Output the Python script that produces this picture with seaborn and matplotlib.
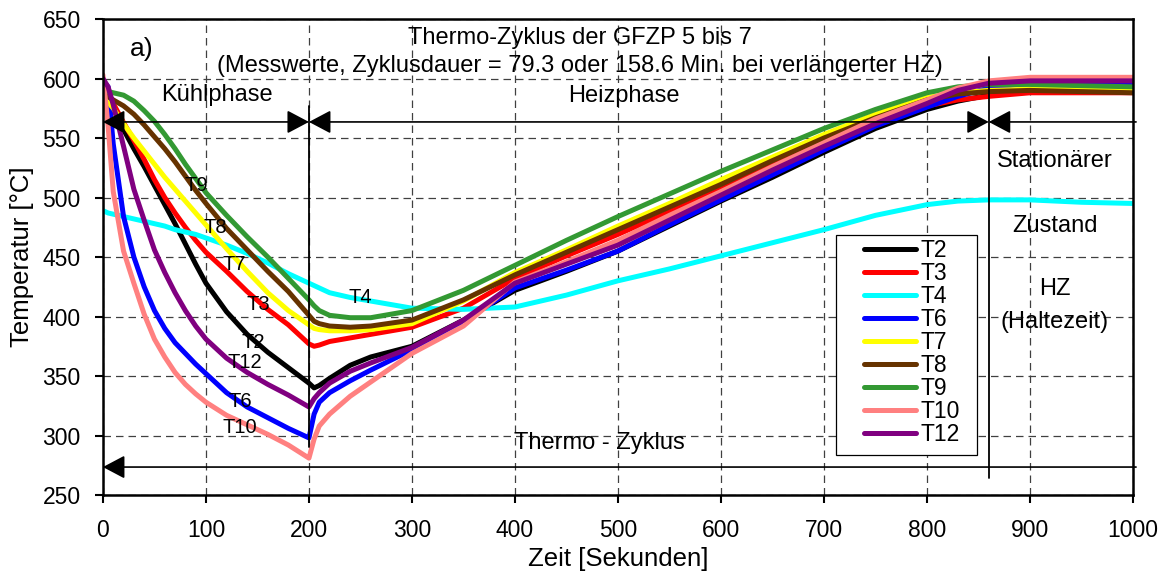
import numpy as np
import pandas as pd
import matplotlib
matplotlib.use("Agg")
import matplotlib.pyplot as plt
import seaborn as sns
from matplotlib.lines import Line2D
from matplotlib.patches import Rectangle

# ---------------- data ----------------
zeit = [0, 5, 10, 20, 30, 40, 50, 60, 70, 80, 90, 100, 120, 140, 160, 180, 200,
        205, 210, 220, 240, 260, 300, 350, 400, 450, 500, 550, 600, 650, 700,
        750, 800, 830, 860, 900, 950, 1000]

T2 = [598, 587, 575, 557, 541, 526, 510, 494, 478, 461, 444, 428, 404, 385, 370, 357, 344,
      340, 342, 348, 359, 366, 375, 397, 422, 438, 455, 476, 497, 517, 538,
      558, 574, 581, 586, 589, 590, 590]
T3 = [595, 588, 579, 563, 548, 532, 515, 500, 487, 475, 464, 454, 438, 421, 406, 393, 377,
      375, 376, 379, 382, 385, 391, 407, 432, 451, 469, 488, 507, 527, 546,
      563, 577, 582, 585, 588, 588, 588]
T4 = [489, 487, 486, 484, 482, 480, 478, 476, 473, 471, 469, 466, 460, 453, 445, 436, 428,
      426, 424, 420, 416, 413, 407, 406, 408, 418, 430, 440, 451, 462, 473,
      485, 494, 497, 498, 498, 496, 495]
T6 = [598, 593, 545, 484, 450, 425, 405, 390, 378, 369, 360, 352, 336, 324, 315, 306, 298,
      318, 328, 336, 346, 355, 372, 396, 424, 439, 455, 477, 498, 519, 540,
      560, 576, 585, 592, 596, 596, 595]
T7 = [583, 580, 575, 562, 550, 539, 528, 517, 507, 497, 487, 477, 457, 438, 420, 405, 393,
      390, 389, 388, 388, 389, 394, 413, 437, 456, 476, 495, 515, 534, 553,
      570, 584, 588, 590, 591, 591, 590]
T8 = [587, 585, 582, 577, 570, 561, 551, 541, 530, 518, 506, 495, 474, 456, 438, 421, 401,
      396, 394, 392, 391, 392, 397, 414, 435, 454, 473, 492, 511, 531, 550,
      567, 582, 587, 589, 590, 589, 588]
T9 = [590, 589, 588, 586, 581, 573, 564, 553, 541, 528, 516, 504, 485, 467, 450, 432, 414,
      409, 405, 401, 399, 399, 405, 422, 443, 464, 484, 503, 522, 540, 558,
      574, 588, 593, 595, 595, 594, 593]
T10 = [603, 560, 505, 455, 428, 402, 381, 366, 353, 343, 335, 328, 317, 309, 301, 292, 281,
       297, 308, 318, 333, 345, 369, 392, 429, 446, 464, 485, 505, 526, 546,
       566, 582, 592, 598, 601, 601, 601]
T12 = [600, 593, 578, 543, 507, 481, 456, 437, 420, 405, 392, 381, 365, 353, 343, 334, 324,
       331, 336, 344, 354, 361, 374, 397, 428, 444, 460, 481, 502, 523, 543,
       562, 579, 590, 596, 598, 598, 598]

serien = ["T2", "T3", "T4", "T6", "T7", "T8", "T9", "T10", "T12"]
werte = [T2, T3, T4, T6, T7, T8, T9, T10, T12]
farben = ["#000000", "#FF0000", "#00FFFF", "#0000FF", "#FFFF00",
          "#663300", "#339933", "#FF8080", "#800080"]

x_ticks = list(range(0, 1001, 100))
y_ticks = list(range(250, 651, 50))

# curve labels (text, x, y)
kurven_labels = [("T9", 91, 510), ("T8", 109, 475), ("T7", 127, 444), ("T3", 151, 410),
                 ("T2", 146, 378), ("T12", 138, 361), ("T6", 133, 329), ("T10", 133, 307),
                 ("T4", 250, 416)]

# ---------------- plot ----------------
sns.set_style("ticks")
plt.rcParams["font.family"] = ["Liberation Sans", "DejaVu Sans"]
plt.rcParams["text.color"] = "black"
plt.rcParams["axes.labelcolor"] = "black"
plt.rcParams["xtick.color"] = "black"
plt.rcParams["ytick.color"] = "black"

df = pd.concat([pd.DataFrame({"Zeit": zeit, "Temp": v, "Serie": s})
                for s, v in zip(serien, werte)], ignore_index=True)

fig = plt.figure(figsize=(11.58, 5.74), dpi=100)
ax = fig.add_axes([0.0889, 0.1376, 0.8895, 0.8293])

sns.lineplot(data=df, x="Zeit", y="Temp", hue="Serie", hue_order=serien,
             palette=dict(zip(serien, farben)), linewidth=3.6, ax=ax,
             legend=False, sort=False, estimator=None)

ax.set_xlim(0, 1000)
ax.set_ylim(250, 650)
ax.set_xticks(x_ticks)
ax.set_yticks(y_ticks)
ax.tick_params(axis="both", labelsize=16.5, direction="out", length=6, width=1.5,
               color="black", labelcolor="black")
ax.tick_params(axis="x", pad=11)
ax.tick_params(axis="y", pad=10)
ax.grid(True, linestyle=(0, (6, 4)), color="0.25", linewidth=0.9)
for sp in ax.spines.values():
    sp.set_linewidth(1.8)
    sp.set_color("black")
    sp.set_visible(True)
ax.set_xlabel("Zeit [Sekunden]", fontsize=18.5, labelpad=4)
ax.set_ylabel("Temperatur [°C]", fontsize=18.5, labelpad=6)

# vertical separators
ax.plot([200, 200], [290, 577], color="black", lw=1.3)
ax.plot([860, 860], [264, 618], color="black", lw=1.3, clip_on=False)

# arrows
ap = dict(color="black", lw=1.2, shrinkA=0, shrinkB=0, mutation_scale=20)
ax.annotate("", xy=(0, 563.5), xytext=(200, 563.5),
            arrowprops=dict(arrowstyle="<|-|>,head_length=0.68,head_width=0.36", **ap))
ax.annotate("", xy=(200, 563.5), xytext=(860, 563.5),
            arrowprops=dict(arrowstyle="<|-|>,head_length=0.68,head_width=0.36", **ap))
ax.annotate("", xy=(860, 563.5), xytext=(1003, 563.5),
            arrowprops=dict(arrowstyle="-|>,head_length=0.68,head_width=0.36", **ap),
            annotation_clip=False)
ax.annotate("", xy=(0, 273.5), xytext=(1003, 273.5),
            arrowprops=dict(arrowstyle="-|>,head_length=0.68,head_width=0.36", **ap),
            annotation_clip=False)

# texts
ax.text(38, 625, "a)", fontsize=19, ha="center", va="center")
ax.text(463, 634, "Thermo-Zyklus der GFZP 5 bis 7", fontsize=17, ha="center", va="center")
ax.text(463, 610.5, "(Messwerte, Zyklusdauer = 79.3 oder 158.6 Min. bei verlängerter HZ)",
        fontsize=17, ha="center", va="center")
ax.text(111, 586, "Kühlphase", fontsize=17, ha="center", va="center")
ax.text(506, 585, "Heizphase", fontsize=17, ha="center", va="center")
ax.text(924, 531, "Stationärer", fontsize=17, ha="center", va="center")
ax.text(924, 476, "Zustand", fontsize=17, ha="center", va="center")
ax.text(924, 423, "HZ", fontsize=17, ha="center", va="center")
ax.text(924, 395, "(Haltezeit)", fontsize=17, ha="center", va="center")
ax.text(482, 294, "Thermo - Zyklus", fontsize=17, ha="center", va="center")
for t, xx, yy in kurven_labels:
    ax.text(xx, yy, t, fontsize=14.5, ha="center", va="center")

# legend (frame drawn separately to get the wide left margin of the original)
ax.add_patch(Rectangle((0.7117, 0.084), 0.1369, 0.4622, transform=ax.transAxes,
                       facecolor="white", edgecolor="black", lw=0.9, zorder=4))
handles = [Line2D([0], [0], color=c, lw=3.6, solid_capstyle="round") for c in farben]
leg = ax.legend(handles, serien, loc="upper left", bbox_to_anchor=(0.7317, 0.5525),
                borderaxespad=0, fontsize=16.5, frameon=False, handlelength=2.3,
                handletextpad=0.2, labelspacing=0.0, borderpad=0.3)
leg.set_zorder(5)

fig.savefig("out.png", dpi=100)
